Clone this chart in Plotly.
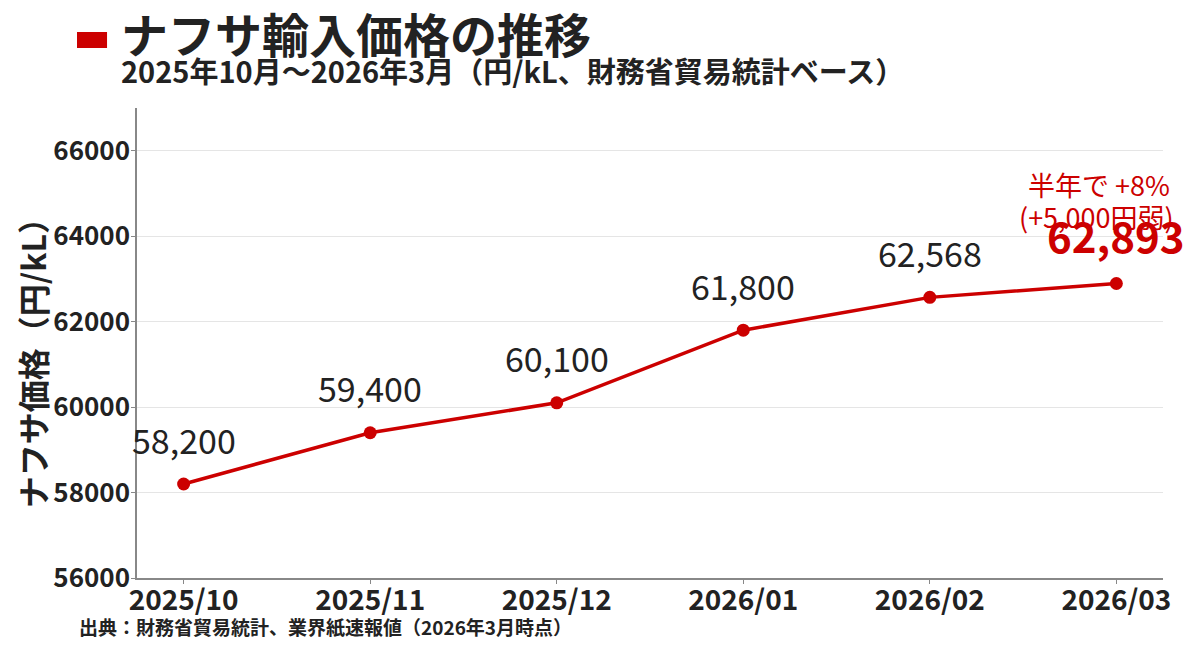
import plotly.graph_objects as go

months = ["2025/10", "2025/11", "2025/12", "2026/01", "2026/02", "2026/03"]
prices = [58200, 59400, 60100, 61800, 62568, 62893]
labels = ["58,200", "59,400", "60,100", "61,800", "62,568", "62,893"]
y_ticks = [56000, 58000, 60000, 62000, 64000, 66000]
note_lines = ["半年で +8%", "(+5,000円弱)"]

RED = "#CC0000"
DARK = "#222222"
FONT = "Noto Sans CJK JP"

fig = go.Figure()
fig.add_trace(go.Scatter(
    x=list(range(len(months))), y=prices, mode="lines+markers",
    line=dict(color=RED, width=3.5),
    marker=dict(color=RED, size=13),
    hoverinfo="skip", showlegend=False,
))

for i, (v, lab) in enumerate(zip(prices, labels)):
    last = i == len(prices) - 1
    fig.add_annotation(
        x=i, y=v, xref="x", yref="y", text=("<b>%s</b>" % lab) if last else lab, showarrow=False,
        yshift=49 if last else 45,
        font=dict(family=FONT, size=42 if last else 34, color=RED if last else DARK),
    )

for k, line in enumerate(note_lines):
    fig.add_annotation(
        x=len(prices) - 1, y=prices[-1], xref="x", yref="y",
        text=line, showarrow=False, xanchor="right",
        xshift=[56, 60][k], yshift=[99, 67][k],
        font=dict(family=FONT, size=27, color=RED),
    )

# title block
fig.add_shape(type="rect", xref="paper", yref="paper",
              x0=-0.0585, x1=-0.0292, y0=1.1277, y1=1.1617,
              fillcolor=RED, line=dict(width=0), layer="above")
fig.add_annotation(xref="paper", yref="paper", x=-0.0175, y=1.161, xanchor="left", yanchor="middle",
                   text="<b>ナフサ輸入価格の推移</b>", showarrow=False,
                   font=dict(family=FONT, size=47, color=DARK))
fig.add_annotation(xref="paper", yref="paper", x=-0.0175, y=1.081, xanchor="left", yanchor="middle",
                   text="<b>2025年10月～2026年3月（円/kL、財務省貿易統計ベース）</b>", showarrow=False,
                   font=dict(family=FONT, size=29, color=DARK))
fig.add_annotation(xref="paper", yref="paper", x=-0.0585, y=-0.104, xanchor="left", yanchor="middle",
                   text="<b>出典：財務省貿易統計、業界紙速報値（2026年3月時点）</b>", showarrow=False,
                   font=dict(family=FONT, size=19, color=DARK))
fig.add_annotation(xref="paper", yref="paper", x=-0.1024, y=0.474, xanchor="center", yanchor="middle",
                   text="<b>ナフサ価格（円/kL）</b>", showarrow=False, textangle=-90,
                   font=dict(family=FONT, size=32, color=DARK))

fig.update_layout(
    width=1200, height=658,
    margin=dict(l=129, r=45, t=100, b=88),
    paper_bgcolor="white", plot_bgcolor="white",
    font=dict(family=FONT, color=DARK),
)
fig.update_xaxes(
    tickmode="array", tickvals=list(range(len(months))), ticktext=["<b>%s</b>" % m for m in months],
    range=[-0.25, 5.25], showgrid=False, showline=True, linecolor="#888888", linewidth=2,
    ticks="outside", tickcolor="#888888", ticklen=4, ticklabelstandoff=-8,
    tickfont=dict(family=FONT, size=28, color=DARK), zeroline=False, automargin=False,
)
fig.update_yaxes(
    range=[56000, 67000], tickmode="array", tickvals=y_ticks, ticktext=["<b>%d</b>" % t for t in y_ticks],
    showgrid=True, gridcolor="#E5E5E5", gridwidth=1,
    showline=True, linecolor="#888888", linewidth=1.5,
    ticks="outside", tickcolor="#888888", ticklen=4, ticklabelstandoff=-4,
    tickfont=dict(family=FONT, size=26, color=DARK), zeroline=False, automargin=False,
)

fig.write_html("out.html")
